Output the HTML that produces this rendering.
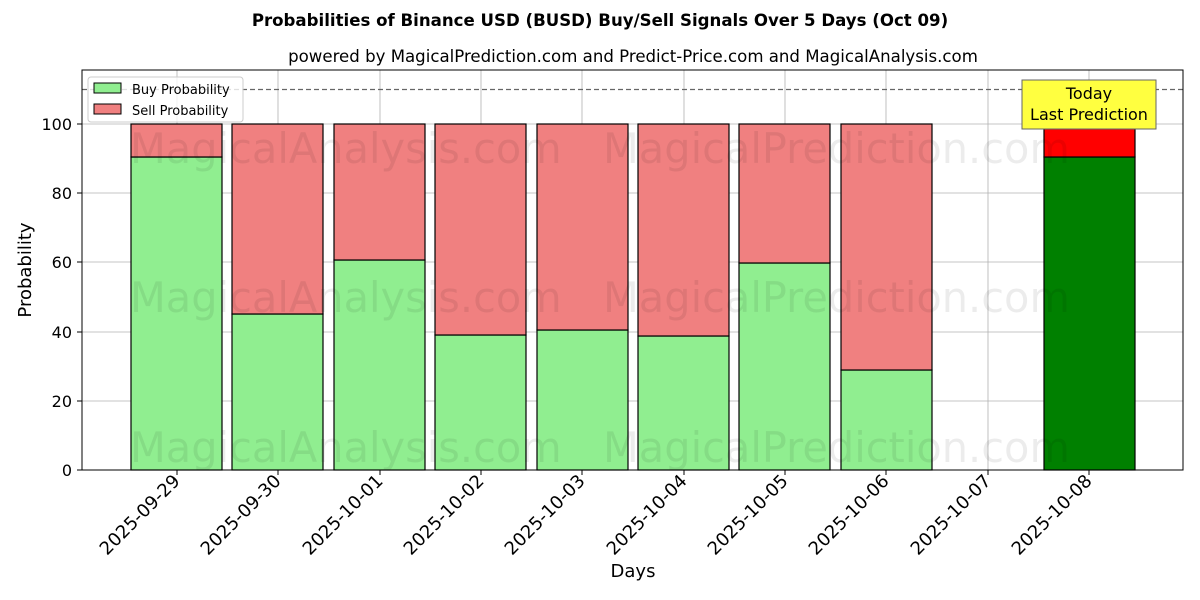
<!DOCTYPE html>
<html><head><style>body{margin:0;background:#fff}svg{display:block;font-family:"DejaVu Sans","Liberation Sans",sans-serif}</style></head>
<body>
<svg width="1200" height="600" viewBox="0 0 1200 600" xmlns="http://www.w3.org/2000/svg">
<rect width="1200" height="600" fill="#fff"/>
<text x="600" y="26" text-anchor="middle" font-size="16.6" font-weight="bold">Probabilities of Binance USD (BUSD) Buy/Sell Signals Over 5 Days (Oct 09)</text>
<text x="633" y="62" text-anchor="middle" font-size="16.6">powered by MagicalPrediction.com and Predict-Price.com and MagicalAnalysis.com</text>
<g stroke="#b0b0b0" stroke-width="0.8">
<line x1="177" y1="70" x2="177" y2="470"/><line x1="278" y1="70" x2="278" y2="470"/><line x1="380" y1="70" x2="380" y2="470"/><line x1="481" y1="70" x2="481" y2="470"/><line x1="582" y1="70" x2="582" y2="470"/><line x1="684" y1="70" x2="684" y2="470"/><line x1="785" y1="70" x2="785" y2="470"/><line x1="886" y1="70" x2="886" y2="470"/><line x1="988" y1="70" x2="988" y2="470"/><line x1="1089" y1="70" x2="1089" y2="470"/>
<line x1="82" y1="401" x2="1183" y2="401"/><line x1="82" y1="332" x2="1183" y2="332"/><line x1="82" y1="262" x2="1183" y2="262"/><line x1="82" y1="193" x2="1183" y2="193"/><line x1="82" y1="124" x2="1183" y2="124"/>
</g>
<g stroke="#000" stroke-width="1.2">
<rect x="131" y="157" width="91" height="313" fill="#90ee90"/><rect x="131" y="124" width="91" height="33" fill="#f08080"/>
<rect x="232" y="314" width="91" height="156" fill="#90ee90"/><rect x="232" y="124" width="91" height="190" fill="#f08080"/>
<rect x="334" y="260" width="91" height="210" fill="#90ee90"/><rect x="334" y="124" width="91" height="136" fill="#f08080"/>
<rect x="435" y="335" width="91" height="135" fill="#90ee90"/><rect x="435" y="124" width="91" height="211" fill="#f08080"/>
<rect x="537" y="330" width="91" height="140" fill="#90ee90"/><rect x="537" y="124" width="91" height="206" fill="#f08080"/>
<rect x="638" y="336" width="91" height="134" fill="#90ee90"/><rect x="638" y="124" width="91" height="212" fill="#f08080"/>
<rect x="739" y="263" width="91" height="207" fill="#90ee90"/><rect x="739" y="124" width="91" height="139" fill="#f08080"/>
<rect x="841" y="370" width="91" height="100" fill="#90ee90"/><rect x="841" y="124" width="91" height="246" fill="#f08080"/>
<rect x="1044" y="157" width="91" height="313" fill="#008000"/><rect x="1044" y="124" width="91" height="33" fill="#ff0000"/>
</g>
<g fill="#000" opacity="0.07" font-size="41.5">
<text x="130" y="163">MagicalAnalysis.com</text><text x="603" y="163">MagicalPrediction.com</text>
<text x="130" y="312">MagicalAnalysis.com</text><text x="603" y="312">MagicalPrediction.com</text>
<text x="130" y="462">MagicalAnalysis.com</text><text x="603" y="462">MagicalPrediction.com</text>
</g>
<line x1="82" y1="89.5" x2="1183" y2="89.5" stroke="#666" stroke-width="1.2" stroke-dasharray="5,3"/>
<rect x="1022" y="80" width="134" height="49" fill="#ffff40" stroke="#666" stroke-width="1"/>
<text x="1089" y="99" text-anchor="middle" font-size="16">Today</text>
<text x="1089" y="120" text-anchor="middle" font-size="16">Last Prediction</text>
<rect x="82" y="70" width="1101" height="400" fill="none" stroke="#000" stroke-width="1"/>
<g stroke="#000"><line x1="77" y1="470" x2="82" y2="470"/><line x1="77" y1="401" x2="82" y2="401"/><line x1="77" y1="332" x2="82" y2="332"/><line x1="77" y1="262" x2="82" y2="262"/><line x1="77" y1="193" x2="82" y2="193"/><line x1="77" y1="124" x2="82" y2="124"/></g>
<g font-size="16" text-anchor="end"><text x="72" y="476">0</text><text x="72" y="407">20</text><text x="72" y="338">40</text><text x="72" y="268">60</text><text x="72" y="199">80</text><text x="72" y="130">100</text></g>
<text transform="translate(31,270) rotate(-90)" text-anchor="middle" font-size="18">Probability</text>
<text x="633" y="577" text-anchor="middle" font-size="18">Days</text>
<g font-size="18" text-anchor="end">
<text transform="translate(181,482) rotate(-45)">2025-09-29</text>
<text transform="translate(282,482) rotate(-45)">2025-09-30</text>
<text transform="translate(384,482) rotate(-45)">2025-10-01</text>
<text transform="translate(485,482) rotate(-45)">2025-10-02</text>
<text transform="translate(586,482) rotate(-45)">2025-10-03</text>
<text transform="translate(688,482) rotate(-45)">2025-10-04</text>
<text transform="translate(789,482) rotate(-45)">2025-10-05</text>
<text transform="translate(890,482) rotate(-45)">2025-10-06</text>
<text transform="translate(992,482) rotate(-45)">2025-10-07</text>
<text transform="translate(1093,482) rotate(-45)">2025-10-08</text>
</g>
<g stroke="#000"><line x1="177" y1="470" x2="177" y2="475"/><line x1="278" y1="470" x2="278" y2="475"/><line x1="380" y1="470" x2="380" y2="475"/><line x1="481" y1="470" x2="481" y2="475"/><line x1="582" y1="470" x2="582" y2="475"/><line x1="684" y1="470" x2="684" y2="475"/><line x1="785" y1="470" x2="785" y2="475"/><line x1="886" y1="470" x2="886" y2="475"/><line x1="988" y1="470" x2="988" y2="475"/><line x1="1089" y1="470" x2="1089" y2="475"/></g>
<rect x="88" y="77" width="155" height="45" fill="#fff" fill-opacity="0.8" stroke="#ccc" rx="3"/>
<rect x="94" y="83" width="27" height="10" fill="#90ee90" stroke="#000"/>
<rect x="94" y="104" width="27" height="10" fill="#f08080" stroke="#000"/>
<text x="132" y="94" font-size="13">Buy Probability</text>
<text x="132" y="115" font-size="13">Sell Probability</text>
</svg>
</body></html>
